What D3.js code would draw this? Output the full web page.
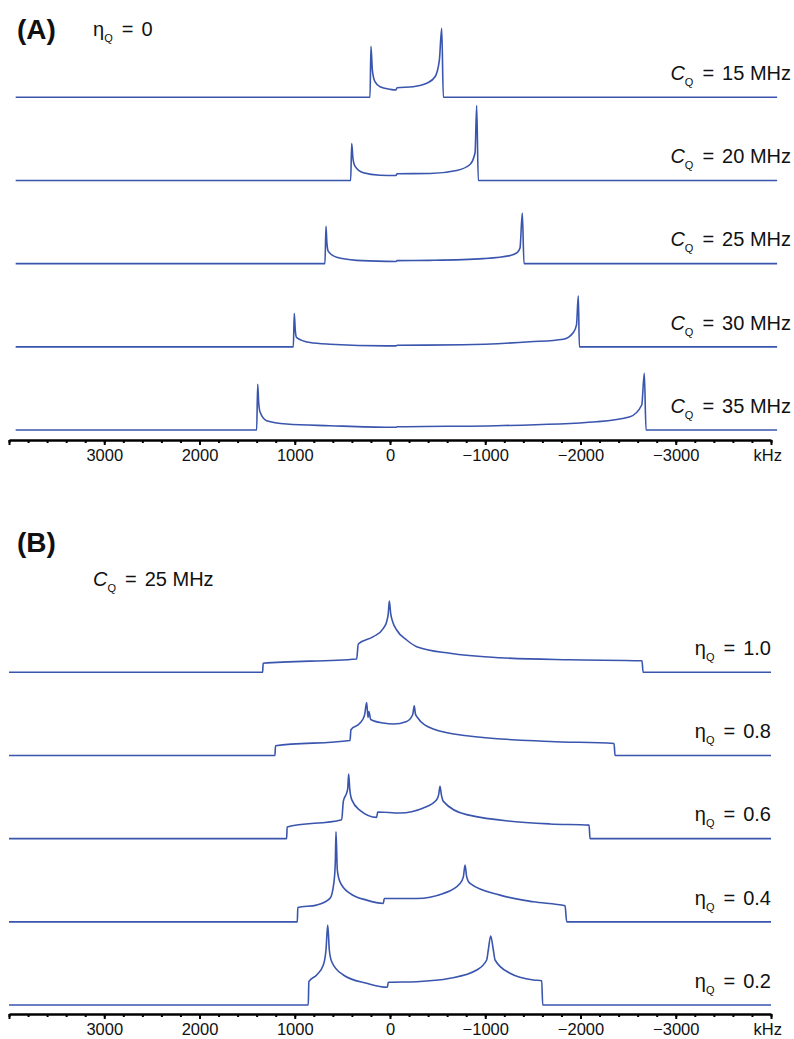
<!DOCTYPE html>
<html>
<head>
<meta charset="utf-8">
<script src="https://d3js.org/d3.v7.min.js"></script>
<style>
  body { margin: 0; background: #fff; }
  text { font-family: Arial, "Liberation Sans", sans-serif; fill: #111; }
</style>
</head>
<body>
<div id="grafico"></div>
<script>
// Tick labels of the frequency axis (kHz)
var majorTicks = [4000, 3000, 2000, 1000, 0, -1000, -2000, -3000, -4000];
var labelTicks = [3000, 2000, 1000, 0, -1000, -2000, -3000];

// Panel A: eta_Q = 0, several C_Q values (MHz)
var cqValues = ["15", "20", "25", "30", "35"];
// Panel B: C_Q = 25 MHz, several eta_Q values
var etaValues = ["1.0", "0.8", "0.6", "0.4", "0.2"];

// Spectra: [frequency kHz, intensity a.u.]
var cq15 = [[3930,0],[210,0],[200,51],[185,27],[158,15.6],[105,10.6],[0,8],[-63,7.3],[-74,9.6],[-242,10.6],
  [-385,14],[-473,20.6],[-518,37],[-543,69],[-560,0],[-4064,0]];
var cq20 = [[3930,0],[413,0],[402,37],[389,22],[368,14.3],[280,7.7],[105,5.3],[-63,5],[-74,6.7],[-420,7],
  [-700,10],[-840,16],[-893,27.7],[-910,75],[-927,0],[-4064,0]];
var cq25 = [[3930,0],[683,0],[672,37.3],[662,20],[648,12.3],[560,6.3],[350,3.3],[35,2.3],[-63,2.2],[-74,3],
  [-420,3.3],[-980,5],[-1260,8],[-1334,11],[-1365,15.7],[-1389,50.7],[-1407,0],[-4064,0]];
var cq30 = [[3930,0],[1015,0],[1005,33.3],[994,16],[980,9.3],[840,4.3],[630,2.6],[35,1],[-63,1],[-74,1.5],
  [-770,2],[-1470,5],[-1820,7.6],[-1925,14.3],[-1958,22],[-1977,51],[-1988,0],[-4064,0]];
var cq35 = [[3930,0],[1400,0],[1389,45.7],[1379,28],[1365,18.3],[1295,9.3],[1085,6],[630,4.3],[0,2.7],[-63,2.7],
  [-74,3.2],[-1120,4.3],[-2170,8.3],[-2520,13.3],[-2643,25],[-2670,56.7],[-2688,0],[-4064,0]];

var eta10 = [[4000,0],[1337,0],[1332,9],[350,13.3],[333,28.3],[175,35.6],[70,44],[35,50.6],[18,59],[7,71.3],
  [-7,59],[-28,50.6],[-70,42.3],[-175,32.3],[-280,25.6],[-630,19],[-1155,14.6],[-1890,12.5],[-2646,11.5],
  [-2657,0],[-4000,0]];
var eta08 = [[4000,0],[1208,0],[1202,9.7],[420,15],[410,25.7],[315,32.4],[268,40],[245,53],[231,38],[221,44],
  [203,36],[70,32.4],[-35,31.4],[-175,34],[-238,40.7],[-255,49.7],[-266,42],[-280,39],[-455,26.4],[-805,19.7],
  [-1680,14],[-2352,12],[-2363,0],[-4000,0]];
var eta06 = [[4000,0],[1085,0],[1080,11.7],[507,19],[490,37.3],[455,45.7],[444,50],[434,64.7],[423,50],[402,39],
  [315,28.3],[140,21.3],[129,26.7],[-105,25.7],[-350,30.7],[-490,39],[-511,44],[-525,52.3],[-539,44],[-560,37.3],
  [-805,24],[-1680,14.7],[-2090,13.5],[-2100,0],[-4000,0]];
var eta04 = [[4000,0],[973,0],[968,14.3],[770,16.7],[630,23.4],[588,40],[574,60],[567,90],[553,51.7],[525,40],
  [420,28.4],[245,21.7],[70,18.4],[60,23.4],[-280,23.4],[-560,28.4],[-735,38.4],[-770,45],[-788,56.7],[-805,45],
  [-840,38.4],[-1155,26.7],[-1505,20],[-1838,16],[-1855,0],[-4000,0]];
var eta02 = [[4000,0],[858,0],[852,23.3],[770,30],[700,40],[672,55],[654,80],[637,55],[612,43.3],[490,30],
  [245,21.7],[28,17.7],[18,22.7],[-280,23.3],[-630,26.7],[-910,35],[-1015,45],[-1032,55],[-1057,69],[-1085,55],
  [-1103,45],[-1260,31.7],[-1505,25],[-1593,24.3],[-1603,0],[-4000,0]];

var spectraA = [cq15, cq20, cq25, cq30, cq35];
var spectraB = [eta10, eta08, eta06, eta04, eta02];

var width = 794, height = 1039;
var lineColor = "#3a55ad";

var svg = d3.select("#grafico")
  .append("svg")
    .attr("width", width)
    .attr("height", height);

// Frequency scale (kHz, decreasing to the right)
var x = d3.scaleLinear()
  .domain([4000, -4000])
  .range([9, 771]);

// Intensity scale, one pixel per unit, upwards
var yInt = d3.scaleLinear()
  .domain([0, 100])
  .range([0, -100]);

// Baseline position of each trace
var yA = d3.scalePoint().domain(cqValues).range([97.3, 430]);
var yB = d3.scalePoint().domain(etaValues).range([672.3, 1005]);

var spectrumLine = d3.line()
  .x(function(d) { return x(d[0]); })
  .y(function(d) { return yInt(d[1]); })
  .curve(d3.curveMonotoneX);

// Text with a subscript Q, e.g. C_Q = 15 MHz
function symbolLabel(xPos, yPos, anchor, sym, italic, value) {
  var t = svg.append("text")
    .attr("x", xPos)
    .attr("y", yPos)
    .attr("text-anchor", anchor)
    .style("font-size", "20px");
  t.append("tspan").text(sym).style("font-style", italic ? "italic" : "normal");
  t.append("tspan").text("Q").attr("dy", 6).style("font-size", "11px");
  t.append("tspan").text("=").attr("dy", -6).attr("dx", 9);
  t.append("tspan").text(value).attr("dx", 8);
  return t;
}

// Axis with major and minor ticks
function drawAxis(yPos) {
  var g = svg.append("g").attr("transform", "translate(0," + yPos + ")");

  var minor = g.append("g")
    .call(d3.axisBottom(x)
      .tickValues(d3.range(-4000, 4001, 200))
      .tickSize(3)
      .tickSizeOuter(0)
      .tickFormat(""));
  minor.select(".domain").remove();

  var major = g.append("g")
    .call(d3.axisBottom(x)
      .tickValues(majorTicks)
      .tickSize(5)
      .tickSizeOuter(0)
      .tickPadding(4.6)
      .tickFormat(function(d) { return labelTicks.indexOf(d) >= 0 ? d3.format("")(d) : ""; }));

  g.selectAll(".tick line").attr("stroke", "#000").attr("stroke-width", 2);
  major.select(".domain").attr("stroke", "#000").attr("stroke-width", 2.5);
  major.selectAll(".tick text")
    .style("font-size", "16.5px")
    .style("font-family", "Arial, 'Liberation Sans', sans-serif")
    .attr("fill", "#111");

  g.append("text")
    .attr("x", x(-4000) + 11)
    .attr("y", 21.3)
    .attr("text-anchor", "end")
    .style("font-size", "16.5px")
    .text("kHz");
}

// Panel A
svg.append("text")
  .attr("x", 17).attr("y", 39)
  .style("font-size", "28px").style("font-weight", "bold")
  .text("(A)");
symbolLabel(93, 36, "start", "\u03B7", false, "0");

svg.append("g")
  .selectAll("path")
  .data(spectraA)
  .enter()
  .append("path")
    .attr("transform", function(d, i) { return "translate(0," + yA(cqValues[i]) + ")"; })
    .attr("fill", "none")
    .attr("stroke", lineColor)
    .attr("stroke-width", 1.6)
    .attr("d", spectrumLine);

cqValues.forEach(function(v) {
  symbolLabel(791, yA(v) - 17.3, "end", "C", true, v + " MHz");
});

drawAxis(440);

// Panel B
svg.append("text")
  .attr("x", 17).attr("y", 552)
  .style("font-size", "28px").style("font-weight", "bold")
  .text("(B)");
symbolLabel(93, 586, "start", "C", true, "25 MHz");

svg.append("g")
  .selectAll("path")
  .data(spectraB)
  .enter()
  .append("path")
    .attr("transform", function(d, i) { return "translate(0," + yB(etaValues[i]) + ")"; })
    .attr("fill", "none")
    .attr("stroke", lineColor)
    .attr("stroke-width", 1.6)
    .attr("d", spectrumLine);

etaValues.forEach(function(v) {
  symbolLabel(771, yB(v) - 17.3, "end", "\u03B7", false, v);
});

drawAxis(1014);
</script>
</body>
</html>
